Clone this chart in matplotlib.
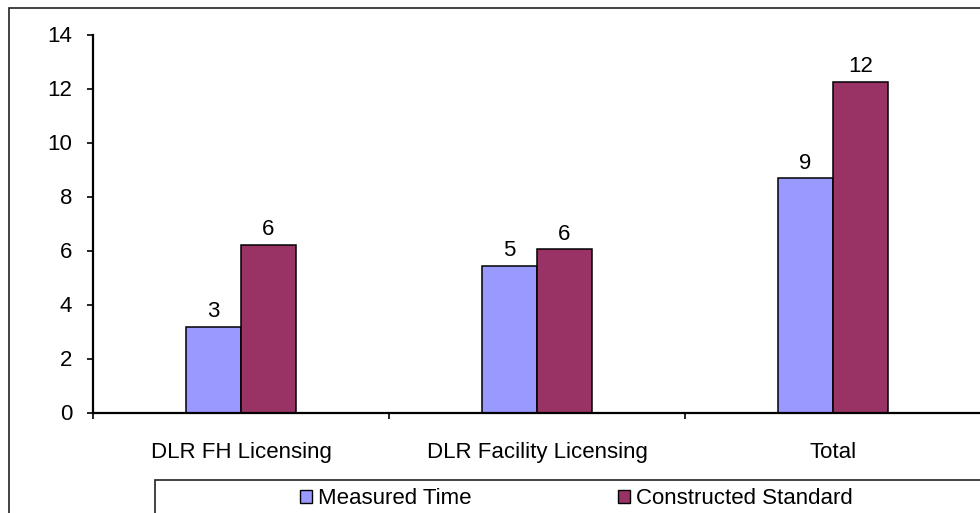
import matplotlib.pyplot as plt
from matplotlib.patches import Rectangle, Patch
import numpy as np

categories = ['DLR FH Licensing', 'DLR Facility Licensing', 'Total']
measured_time = [3.18, 5.42, 8.67]
constructed_standard = [6.2, 6.04, 12.25]
series_names = ['Measured Time', 'Constructed Standard']
colors = ['#9999FF', '#993366']

plt.rcParams['font.family'] = ['Liberation Sans', 'DejaVu Sans']
plt.rcParams['font.size'] = 16

W, H = 980, 513
fig = plt.figure(figsize=(W / 100, H / 100), dpi=100)

# chart-area border, runs off the right and bottom edge
fig.patches.append(Rectangle((9 / W, -0.1), 1.2, (H - 8.5) / H + 0.1, transform=fig.transFigure,
                             fill=False, edgecolor='#222222', linewidth=1.2))

ax = fig.add_axes([93 / W, 100.5 / H, 888 / W, 378 / H])
x = np.arange(len(categories))
bw = 55 / 296
bars1 = ax.bar(x - bw / 2, measured_time, bw, color=colors[0], edgecolor='black', linewidth=1.1)
bars2 = ax.bar(x + bw / 2, constructed_standard, bw, color=colors[1], edgecolor='black', linewidth=1.1)

for bars, vals in [(bars1, measured_time), (bars2, constructed_standard)]:
    for b, v in zip(bars, vals):
        ax.annotate('{:.0f}'.format(v), (b.get_x() + b.get_width() / 2, v),
                    xytext=(0, 3.5), textcoords='offset points', ha='center', va='bottom')

ax.set_xlim(-0.5, 2.5)
ax.set_ylim(0, 14)
ax.set_yticks(range(0, 15, 2))
ax.set_xticks([-0.5, 0.5, 1.5, 2.5])
ax.set_xticklabels([])
ax.set_xticks(x, minor=True)
ax.set_xticklabels(categories, minor=True)
ax.tick_params(axis='x', which='minor', length=0, pad=21)
ax.tick_params(axis='x', which='major', length=4, width=1.2, direction='out')
ax.tick_params(axis='y', length=4, width=1.2, direction='out', pad=11)
for s in ['top', 'right']:
    ax.spines[s].set_visible(False)
for s in ['left', 'bottom']:
    ax.spines[s].set_linewidth(1.6)

# legend box, also cut off at the edges
fig.patches.append(Rectangle((155 / W, -0.1), 1.0, (H - 480) / H + 0.1, transform=fig.transFigure,
                             fill=False, edgecolor='#222222', linewidth=1.2))
handles = [Patch(facecolor=c, edgecolor='black', linewidth=1.0) for c in colors]
fig.legend(handles, series_names, ncol=2, frameon=False, loc='center left',
           bbox_to_anchor=(300 / W, 14 / H), handlelength=0.55, handleheight=0.55,
           handletextpad=0.27, columnspacing=6.57, borderaxespad=0, borderpad=0)

fig.savefig('out.png', dpi=100)
